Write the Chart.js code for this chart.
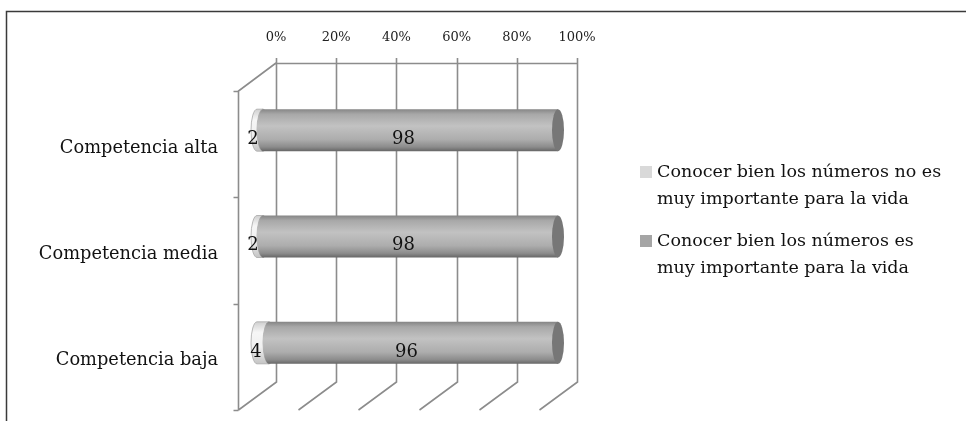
<!DOCTYPE html>
<html>
<head>
<meta charset="utf-8">
<script src="https://cdn.jsdelivr.net/npm/chart.js@4/dist/chart.umd.min.js"></script>
<style>
  html, body { margin: 0; padding: 0; background: #fff; }
  #wrap { width: 966px; height: 421px; }
</style>
</head>
<body>
<div id="wrap"><canvas id="chart" width="966" height="421"></canvas></div>
<script>
var categories = ["Competencia alta", "Competencia media", "Competencia baja"];
var noImportante = [2, 2, 4];
var importante = [98, 98, 96];
var seriesLines = [
  ["Conocer bien los números no es", "muy importante para la vida"],
  ["Conocer bien los números es", "muy importante para la vida"]
];

var SERIF = "'DejaVu Serif', 'Liberation Serif', serif";
var GRID = "#8c8c8c";
// depth of the 3d box: bars sit half way between back wall and front
var DEPTH_X = -38, DEPTH_Y = 28;

function bodyGradient(ctx, top, h, stops) {
  var g = ctx.createLinearGradient(0, top, 0, top + h);
  stops.forEach(function (s) { g.addColorStop(s[0], s[1]); });
  return g;
}

var styles = [
  {
    body: [[0, "#cfcfcf"], [0.25, "#f6f6f6"], [0.6, "#f0f0f0"], [1, "#c4c4c4"]],
    cap: "#d4d4d4",
    edge: "#a8a8a8"
  },
  {
    body: [[0, "#858585"], [0.12, "#a8a8a8"], [0.4, "#c2c2c2"], [0.72, "#adadad"], [0.9, "#8c8c8c"], [1, "#666666"]],
    cap: "#777777",
    edge: null
  }
];

function drawCylinder(ctx, xl, xr, yc, h, st) {
  var rx = 6, ry = h / 2, top = yc - ry;
  ctx.save();
  ctx.beginPath();
  ctx.moveTo(xr, top);
  ctx.lineTo(xl, top);
  ctx.ellipse(xl, yc, rx, ry, 0, -Math.PI / 2, Math.PI / 2, true);
  ctx.lineTo(xr, top + h);
  ctx.closePath();
  ctx.fillStyle = bodyGradient(ctx, top, h, st.body);
  ctx.fill();
  if (st.edge) {
    ctx.strokeStyle = st.edge;
    ctx.lineWidth = 0.8;
    ctx.stroke();
  }
  ctx.beginPath();
  ctx.ellipse(xr, yc, rx, ry, 0, 0, Math.PI * 2);
  ctx.fillStyle = st.cap;
  ctx.fill();
  if (st.edge) ctx.stroke();
  ctx.restore();
}

var boxPlugin = {
  id: "box3d",
  beforeDatasetsDraw: function (chart) {
    var ctx = chart.ctx, a = chart.chartArea;
    var xs = chart.scales.x;
    ctx.save();
    // frame
    ctx.strokeStyle = "#3a3a3a";
    ctx.lineWidth = 1.5;
    ctx.beginPath();
    ctx.moveTo(6.5, 421);
    ctx.lineTo(6.5, 11.5);
    ctx.lineTo(966, 11.5);
    ctx.stroke();

    ctx.strokeStyle = GRID;
    ctx.lineWidth = 1.6;
    ctx.beginPath();
    xs.ticks.forEach(function (t) {
      var px = Math.round(xs.getPixelForValue(t.value)) + 0.5;
      ctx.moveTo(px, a.top - 5);
      ctx.lineTo(px, a.bottom);
      ctx.lineTo(px + DEPTH_X, a.bottom + DEPTH_Y);
    });
    ctx.moveTo(a.left, a.top + 0.5);
    ctx.lineTo(a.right, a.top + 0.5);
    // left wall
    var lx = Math.round(a.left + DEPTH_X) + 0.5;
    ctx.moveTo(a.left, a.top);
    ctx.lineTo(lx, a.top + DEPTH_Y);
    ctx.lineTo(lx, a.bottom + DEPTH_Y);
    var step = (a.bottom - a.top) / categories.length;
    for (var i = 0; i <= categories.length; i++) {
      var y = Math.round(a.top + DEPTH_Y + i * step) + 0.5;
      ctx.moveTo(lx - 5, y);
      ctx.lineTo(lx, y);
    }
    ctx.stroke();
    ctx.restore();
  },
  beforeDatasetDraw: function () {
    return false;
  },
  afterDatasetsDraw: function (chart) {
    var ctx = chart.ctx;
    var dx = DEPTH_X / 2, dy = DEPTH_Y / 2;
    var metas = chart.data.datasets.map(function (d, i) { return chart.getDatasetMeta(i); });
    categories.forEach(function (c, j) {
      metas.forEach(function (meta, i) {
        var el = meta.data[j];
        var p = el.getProps(["x", "y", "base", "height"], true);
        drawCylinder(ctx, p.base + dx, p.x + dx, p.y + dy, p.height, styles[i]);
      });
      metas.forEach(function (meta, i) {
        var el = meta.data[j];
        var p = el.getProps(["x", "y", "base", "height"], true);
        var v = chart.data.datasets[i].data[j];
        ctx.save();
        ctx.font = "18px " + SERIF;
        ctx.fillStyle = "#111";
        ctx.textAlign = "center";
        ctx.textBaseline = "middle";
        ctx.fillText(String(v), (p.base + p.x) / 2 + dx - 7, p.y + dy + 9);
        ctx.restore();
      });
    });
  },
  afterDraw: function (chart) {
    var ctx = chart.ctx;
    var ys = chart.scales.y;
    ctx.save();
    // category labels sit at the front edge of the box
    ctx.font = "17.8px " + SERIF;
    ctx.fillStyle = "#111";
    ctx.textAlign = "right";
    ctx.textBaseline = "middle";
    categories.forEach(function (c, j) {
      ctx.fillText(c, 218, ys.getPixelForValue(j) + DEPTH_Y + 4);
    });

    // legend
    ctx.font = "17.5px " + SERIF;
    var legendTop = [172, 241];
    chart.data.datasets.forEach(function (ds, i) {
      var y0 = legendTop[i];
      ctx.fillStyle = ds.backgroundColor;
      ctx.fillRect(640, y0 - 6, 12, 12);
      ctx.fillStyle = "#111";
      ctx.textAlign = "left";
      seriesLines[i].forEach(function (line, k) {
        ctx.fillText(line, 657, y0 + k * 27);
      });
    });
    ctx.restore();
  }
};

new Chart(document.getElementById("chart"), {
  type: "bar",
  data: {
    labels: categories,
    datasets: [
      { label: seriesLines[0].join(" "), data: noImportante, backgroundColor: "#d9d9d9" },
      { label: seriesLines[1].join(" "), data: importante, backgroundColor: "#a5a5a5" }
    ]
  },
  options: {
    indexAxis: "y",
    responsive: false,
    animation: false,
    maintainAspectRatio: false,
    barThickness: 42,
    layout: { padding: { left: 276, right: 389, top: 29, bottom: 39 } },
    plugins: {
      legend: { display: false },
      tooltip: { enabled: false }
    },
    scales: {
      x: {
        position: "top",
        stacked: true,
        min: 0,
        max: 100,
        grid: { display: false, drawTicks: false },
        border: { display: false },
        ticks: {
          stepSize: 20,
          padding: 18,
          color: "#222",
          font: { family: SERIF, size: 13 },
          callback: function (v) { return v + "%"; }
        },
        afterFit: function (scale) { scale.height = 34; }
      },
      y: {
        stacked: true,
        display: false
      }
    }
  },
  plugins: [boxPlugin]
});
</script>
</body>
</html>
